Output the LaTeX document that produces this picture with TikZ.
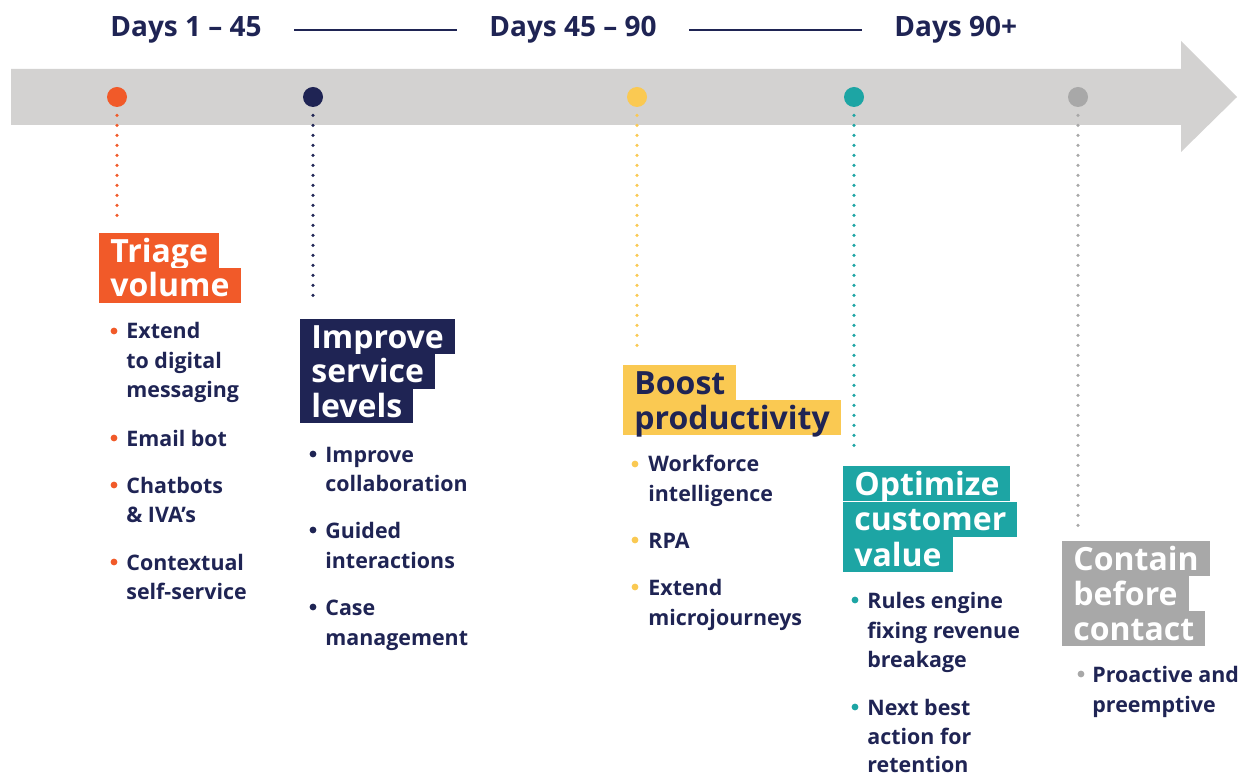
\documentclass[tikz,border=0pt]{standalone}
\usepackage{fontspec}
\setmainfont{Open Sans}
\usetikzlibrary{positioning,calc}

\definecolor{band}{HTML}{D3D2D1}
\definecolor{navy}{HTML}{1F2454}
\definecolor{tri}{HTML}{F15A29}
\definecolor{boost}{HTML}{FAC952}
\definecolor{teal}{HTML}{1DA5A4}
\definecolor{grayph}{HTML}{A8A8A8}

\tikzset{
  phase/.style={anchor=north west, font=\fontsize{16}{16}\selectfont\bfseries, text=white,
    text height=14pt, text depth=2.5pt, inner ysep=0.5pt, inner xsep=5.5pt},
  item/.style={anchor=base west, font=\fontsize{10.7}{12}\selectfont\bfseries, text=navy, inner sep=0pt},
  days/.style={anchor=base west, font=\fontsize{14}{14}\selectfont\bfseries, text=navy, inner sep=0pt},
  milestone/.style={circle, minimum size=10pt, inner sep=0pt},
  trail/.style={line width=1.8pt, line cap=round, dash pattern=on 0pt off 5pt},
  bul/.style={circle, inner sep=0pt, minimum size=3.4pt}
}

\begin{document}
\begin{tikzpicture}[x=0.5pt,y=-0.5pt]
\useasboundingbox (0,0) rectangle (1251,774);

% timeline arrow
\fill[band] (11,69) -- (1181,69) -- (1181,41) -- (1237,97) -- (1181,152) -- (1181,125) -- (11,125) -- cycle;

% periods
\node[days] (h1) at (110,37) {Days 1 – 45};
\node[days] (h2) at (489,37) {Days 45 – 90};
\node[days] (h3) at (894,37) {Days 90+};
\draw[navy, line width=0.8pt] ([shift={(16pt,3.5pt)}]h1.base east) -- ([shift={(-16pt,3.5pt)}]h2.base west);
\draw[navy, line width=0.8pt] ([shift={(16pt,3.5pt)}]h2.base east) -- ([shift={(-16pt,3.5pt)}]h3.base west);

% milestones and dotted trails
\foreach \x/\yend/\col [count=\i] in {117/217/tri, 313/304/navy, 637/352/boost, 854/455/teal, 1078/528/grayph} {
  \node[milestone, fill=\col] (d\i) at (\x,97) {};
  \coordinate (e\i) at (\x,\yend);
  \draw[trail, \col] ([yshift=-4pt]d\i.south) -- (e\i);
}

% Triage volume
\foreach \t [count=\i from 0] in {Triage,volume}
  \node[phase, fill=tri] (tv\i) at (99,233+34.5*\i) {\t};
\foreach \y/\t [count=\i] in {339/Extend, 369/to digital, 398/messaging, 446/Email bot,
    493/Chatbots, 522/\& IVA’s, 570/Contextual, 599/self-service}
  \node[item] (tvi\i) at (126,\y) {\t};
\foreach \y [count=\i] in {331,438,485,562}
  \node[bul, fill=tri] (tvb\i) at (114,\y) {};

% Improve service levels
\foreach \t [count=\i from 0] in {Improve,service,levels}
  \node[phase, fill=navy] (is\i) at (300,319+34.5*\i) {\t};
\foreach \y/\t [count=\i] in {462/Improve, 491/collaboration, 538/Guided, 568/interactions,
    615/Case, 645/management}
  \node[item] (isi\i) at (325,\y) {\t};
\foreach \y [count=\i] in {454,530,607}
  \node[bul, fill=navy] (isb\i) at (313,\y) {};

% Boost productivity
\foreach \t [count=\i from 0] in {Boost,productivity}
  \node[phase, fill=boost, text=navy] (bp\i) at (623,365+35*\i) {\t};
\foreach \y/\t [count=\i] in {472/Workforce, 501/intelligence, 548/RPA, 595/Extend, 625/microjourneys}
  \node[item] (bpi\i) at (648,\y) {\t};
\foreach \y [count=\i] in {464,540,587}
  \node[bul, fill=boost] (bpb\i) at (635,\y) {};

% Optimize customer value
\foreach \t [count=\i from 0] in {Optimize,customer,value}
  \node[phase, fill=teal] (oc\i) at (843,466+35.5*\i) {\t};
\foreach \y/\t [count=\i] in {608/Rules engine, 638/fixing revenue, 667/breakage,
    715/Next best, 744/action for, 772/retention}
  \node[item] (oci\i) at (867,\y) {\t};
\foreach \y [count=\i] in {600,707}
  \node[bul, fill=teal] (ocb\i) at (855,\y) {};

% Contain before contact
\foreach \t [count=\i from 0] in {Contain,before,contact}
  \node[phase, fill=grayph] (cb\i) at (1062,541+35*\i) {\t};
\foreach \y/\t [count=\i] in {682/Proactive and, 712/preemptive}
  \node[item] (cbi\i) at (1092,\y) {\t};
\node[bul, fill=grayph] (cbb1) at (1081,674) {};

\end{tikzpicture}
\end{document}
